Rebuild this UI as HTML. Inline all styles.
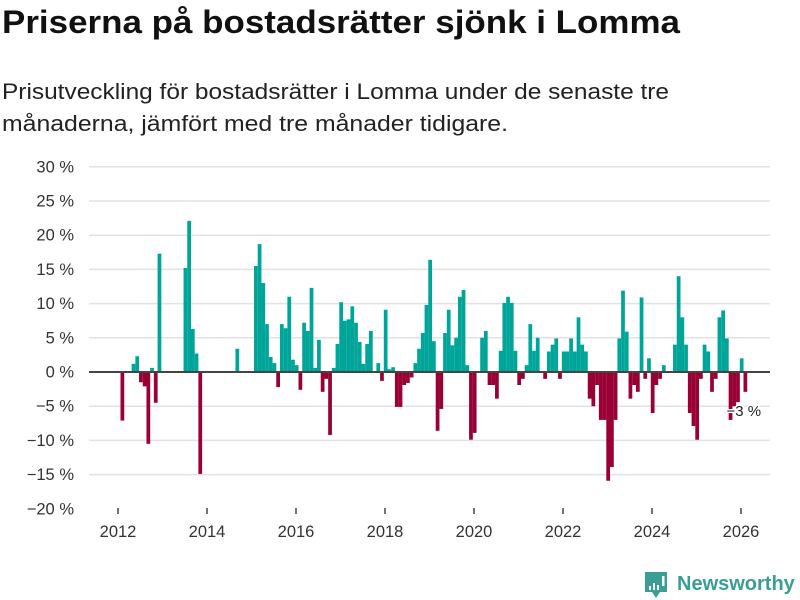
<!DOCTYPE html>
<html><head><meta charset="utf-8"><style>
body{margin:0;background:#fff;font-family:"Liberation Sans",sans-serif;}
#wrap{position:relative;width:800px;height:600px;overflow:hidden;}
.fit{position:absolute;left:2px;margin:0;white-space:nowrap;transform-origin:0 0;}
#t1{top:4px;font-size:32px;font-weight:bold;color:#111;}
.sl{font-size:22px;color:#222;}
#s1{top:79px;}
#s2{top:111px;}
svg{position:absolute;left:0;top:0;}
</style></head><body>
<div id="wrap">
<div id="t1" class="fit" data-w="678">Priserna på bostadsrätter sjönk i Lomma</div>
<div id="s1" class="fit sl" data-w="667">Prisutveckling för bostadsrätter i Lomma under de senaste tre</div>
<div id="s2" class="fit sl" data-w="506">månaderna, jämfört med tre månader tidigare.</div>
<svg id="chart" width="800" height="600"></svg>
</div>
<script>
document.querySelectorAll('.fit').forEach(e=>{const w=e.getBoundingClientRect().width;e.style.transform='scaleX('+(parseFloat(e.dataset.w)/w)+')';});
const startYear = 2012;
const values = [-7.1,null,null,1.2,2.3,-1.5,-2.1,-10.5,0.6,-4.5,17.3,
null,null,null,null,null,null,
15.2,22.1,6.3,2.7,-14.9,
null,null,null,null,null,null,null,null,null,3.4,null,null,null,null,
15.5,18.7,13.0,7.0,2.2,1.3,-2.2,7.0,6.4,11.0,1.8,1.0,-2.6,7.2,6.0,12.3,0.6,4.7,-2.9,-1.0,-9.2,0.6,4.1,10.2,7.5,7.7,9.6,7.2,4.4,1.2,4.1,6.0,null,1.3,-1.3,9.1,0.4,0.7,-5.1,-5.1,-1.9,-1.6,-0.8,1.3,3.4,5.7,9.8,16.4,4.5,-8.6,-5.4,5.7,9.1,3.9,5.0,11.0,12.0,1.0,-9.9,-8.9,null,5.0,6.0,-1.9,-1.9,-3.9,3.1,10.1,11.0,10.1,3.1,-1.9,-1.0,1.0,7.0,3.1,5.0,null,-1.0,3.0,4.0,4.9,-1.0,3.0,3.0,4.9,3.0,8.0,4.0,3.0,-3.9,-5.0,-1.9,-7.0,-7.0,-15.9,-13.9,-7.0,4.9,11.9,5.9,-3.9,-1.9,-2.9,10.9,-1.0,2.0,-6.0,-1.9,-1.0,1.0,null,null,4.0,14.0,8.0,4.0,-6.0,-7.9,-9.9,-1.0,4.0,3.0,-2.9,-1.0,8.0,9.0,4.9,-7.0,-5.0,-4.4,2.0,-2.9];
const yTicks = [-20,-15,-10,-5,0,5,10,15,20,25,30];
const xTicks = [2012,2014,2016,2018,2020,2022,2024,2026];
const lastLabel = "−3 %";

const NS="http://www.w3.org/2000/svg";
const svg=document.getElementById('chart');
const y0=372, pxPer=34.2/5;
const y=v=>y0-v*pxPer;
const yearX=yr=>118+(yr-2012)*44.5;
const monthX=m=>yearX(startYear)+m*44.5/12+2.5;
function el(t,a){const e=document.createElementNS(NS,t);for(const k in a)e.setAttribute(k,a[k]);svg.appendChild(e);return e;}
yTicks.forEach(t=>{
  if(t!==-20&&t!==0){const g=el('line',{x1:89,x2:770,y1:y(t),y2:y(t),stroke:'#e2e2e2','stroke-width':1.5});
  
  }
  const tx=el('text',{x:74,y:y(t)+5.5,'text-anchor':'end','font-size':16.5,fill:'#333','font-family':'Liberation Sans'});
  tx.textContent=(t<0?'−'+(-t):t)+' %';
  
  
});
values.forEach((v,i)=>{
  if(v===null)return;
  const r=el('rect',{x:monthX(i),width:3.75,y:Math.min(y(v),y0),height:Math.abs(y(v)-y0),fill:v>=0?'#00a59a':'#990033'});
  
  
});
const zl=el('line',{x1:89,x2:770,y1:y0,y2:y0,stroke:'#444','stroke-width':2});


xTicks.forEach(t=>{
  const tk=el('line',{x1:yearX(t),x2:yearX(t),y1:508,y2:514,stroke:'#444','stroke-width':1.5});
  
  
  const tx=el('text',{x:yearX(t),y:537,'text-anchor':'middle','font-size':16.5,fill:'#333','font-family':'Liberation Sans'});
  tx.textContent=t;
  
  
});
const li=values.length-1;
const lab=el('text',{x:monthX(li)-17,y:416,'font-size':15,fill:'#222','font-family':'Liberation Sans',stroke:'#fff','stroke-width':3,'paint-order':'stroke'});
lab.textContent=lastLabel;


const lg=el('g',{});


const p=document.createElementNS(NS,'path');
p.setAttribute('d','M645 572 h22 v20 h-7 l-4 6 l-4 -6 h-7 z');p.setAttribute('fill','#3a9e94');lg.appendChild(p);
[[649,586,2,4],[653,583,2,7],[657,585,2,5],[662,576,2.5,10]].forEach(b=>{const r=document.createElementNS(NS,'rect');r.setAttribute('x',b[0]);r.setAttribute('y',b[1]);r.setAttribute('width',b[2]);r.setAttribute('height',b[3]);r.setAttribute('fill','#fff');lg.appendChild(r);});
const lt=document.createElementNS(NS,'text');
lt.setAttribute('x',677);lt.setAttribute('y',590);lt.setAttribute('font-size',20);lt.setAttribute('font-weight','bold');lt.setAttribute('fill','#3a9e94');lt.setAttribute('font-family','Liberation Sans');
lt.textContent='Newsworthy';lg.appendChild(lt);
</script>
</body></html>
